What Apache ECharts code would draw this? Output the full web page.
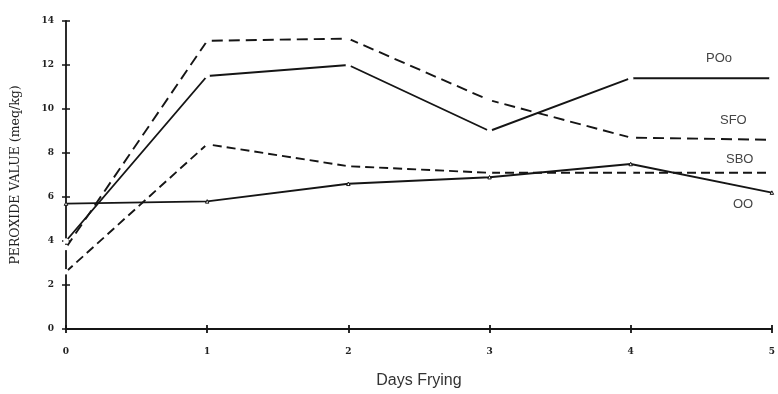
<!DOCTYPE html>
<html>
<head>
<meta charset="utf-8">
<script src="https://cdn.jsdelivr.net/npm/echarts@6/dist/echarts.min.js"></script>
<style>
  html, body { margin: 0; padding: 0; background: #fff; }
  #chart { width: 778px; height: 394px; }
</style>
</head>
<body>
<div id="chart"></div>
<script>
// Peroxide value of frying oils over five days of frying
const days = [0, 1, 2, 3, 4, 5];
const poo = [4.0, 11.5, 12.0, 9.0, 11.4, 11.4];
const sfo = [3.7, 13.1, 13.2, 10.4, 8.7, 8.6];
const sbo = [2.6, 8.4, 7.4, 7.1, 7.1, 7.1];
const oo  = [5.7, 5.8, 6.6, 6.9, 7.5, 6.2];
const yTicks = [0, 2, 4, 6, 8, 10, 12, 14];

const ink = '#151515';
const pairs = (ys) => days.map((d, i) => [d, ys[i]]);

const chart = echarts.init(document.getElementById('chart'), null, { renderer: 'canvas' });

function line(name, ys, dash, symbol) {
  return {
    name, type: 'line', data: pairs(ys), xAxisIndex: 0, yAxisIndex: 0,
    symbol: symbol, symbolSize: 3.5, showSymbol: true,
    lineStyle: { color: ink, width: 1.9, type: dash },
    itemStyle: { color: '#fff', borderColor: ink, borderWidth: 1 },
    animation: false, z: 3
  };
}

const tickFont = { fontFamily: 'DejaVu Serif', fontWeight: 'bold', fontSize: 9, color: '#222' };

chart.setOption({
  animation: false,
  backgroundColor: '#fff',
  grid: { left: 66, right: 1, top: 21, bottom: 64, containLabel: false },
  xAxis: [
    {
      type: 'value', min: 0, max: 5, interval: 1,
      name: 'Days Frying', nameLocation: 'middle', nameGap: 44,
      nameTextStyle: { fontFamily: 'Liberation Sans', fontSize: 16, color: '#333' },
      axisLine: { show: true, lineStyle: { color: ink, width: 1.8 } },
      axisTick: { show: true, length: 4, lineStyle: { color: ink, width: 1.8 } },
      axisLabel: Object.assign({ margin: 18 }, tickFont),
      splitLine: { show: false }
    },
    {
      type: 'value', min: 0, max: 5, interval: 1, position: 'bottom',
      axisLine: { show: false },
      axisTick: { show: true, inside: true, length: 4, lineStyle: { color: ink, width: 1.8 } },
      axisLabel: { show: false }, splitLine: { show: false }
    }
  ],
  yAxis: [
    {
      type: 'value', min: 0, max: 14, interval: 2,
      name: 'PEROXIDE VALUE (meq/kg)', nameLocation: 'middle', nameGap: 44, nameRotate: 90,
      nameTextStyle: { fontFamily: 'DejaVu Serif', fontSize: 12.5, color: '#222' },
      axisLine: { show: true, lineStyle: { color: ink, width: 1.8 } },
      axisTick: { show: true, length: 4, lineStyle: { color: ink, width: 1.5 } },
      axisLabel: Object.assign({ margin: 12, formatter: (v) => yTicks.includes(v) ? String(v) : '' }, tickFont),
      splitLine: { show: false }
    },
    {
      type: 'value', min: 0, max: 14, interval: 2, position: 'left',
      axisLine: { show: false },
      axisTick: { show: true, inside: true, length: 4, lineStyle: { color: ink, width: 1.5 } },
      axisLabel: { show: false }, splitLine: { show: false }
    }
  ],
  series: [
    line('POo', poo, 'solid', 'emptyCircle'),
    line('SFO', sfo, [11, 6], 'emptyCircle'),
    line('SBO', sbo, [9, 5], 'emptyCircle'),
    line('OO', oo, 'solid', 'triangle')
  ],
  graphic: [
    { type: 'text', left: 706, top: 52, style: { text: 'POo', font: '13px "Liberation Sans"', fill: '#444' } },
    { type: 'text', left: 720, top: 114, style: { text: 'SFO', font: '13px "Liberation Sans"', fill: '#444' } },
    { type: 'text', left: 726, top: 153, style: { text: 'SBO', font: '13px "Liberation Sans"', fill: '#444' } },
    { type: 'text', left: 733, top: 198, style: { text: 'OO', font: '13px "Liberation Sans"', fill: '#444' } }
  ]
});
</script>
</body>
</html>
